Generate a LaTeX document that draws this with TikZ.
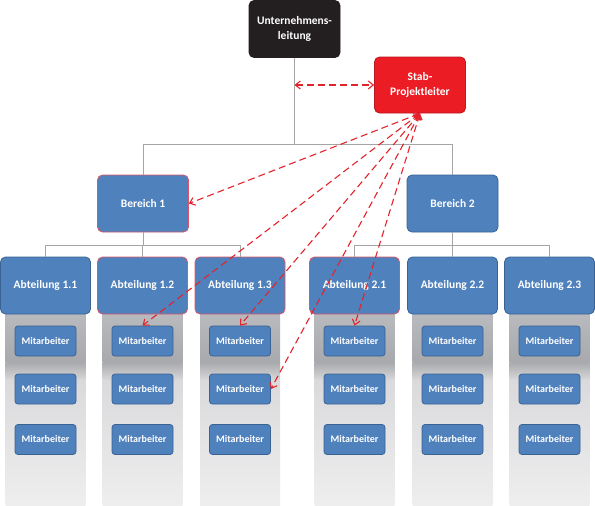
\documentclass[tikz,border=0pt]{standalone}
\usepackage{fontspec}
\setmainfont{Carlito}
\usetikzlibrary{arrows.meta}
\definecolor{boxblue}{HTML}{4F81BD}
\definecolor{boxedge}{HTML}{3A6293}
\definecolor{pinkedge}{HTML}{D9576A}
\definecolor{stabred}{HTML}{EC1C24}
\definecolor{stabedge}{HTML}{B81820}
\definecolor{leadblack}{HTML}{231F20}
\definecolor{linegray}{HTML}{A5A5A5}
\definecolor{arrowred}{HTML}{E3232B}
\definecolor{colA}{HTML}{BEBFC2}
\definecolor{colB}{HTML}{A8A9AC}
\definecolor{colC}{HTML}{DADADC}
\definecolor{colD}{HTML}{EEEEEF}
\tikzset{
  box/.style={draw=boxedge, fill=boxblue, rounded corners=5pt, text=white,
    font=\fontsize{11.5}{14.5}\selectfont\bfseries, minimum width=91pt,
    minimum height=57pt, inner sep=0pt, align=center, line width=0.8pt},
  pinkbox/.style={box, draw=pinkedge},
  leadbox/.style={box, fill=leadblack, draw=leadblack},
  stabbox/.style={box, fill=stabred, draw=stabedge, minimum height=56pt},
  mbox/.style={box, rounded corners=3pt, minimum width=61pt, minimum height=30pt,
    font=\fontsize{10}{12}\selectfont\bfseries},
  conn/.style={draw=linegray, line width=0.9pt},
  redarrow/.style={draw=arrowred, line width=1.1pt, dash pattern=on 7pt off 4pt,
    {Straight Barb[length=5pt,width=8pt]}-{Straight Barb[length=5pt,width=8pt]}},
}
\begin{document}
\begin{tikzpicture}[x=1pt,y=-1pt]
\useasboundingbox (0,0) rectangle (595,506);
% grey columns
\foreach \cx in {45.5,142.5,240,354.5,452.5,549.5}{
  \shade[top color=colA,bottom color=colB] ({\cx-40},300) rectangle ({\cx+40},362.5);
  \shade[top color=colB,bottom color=colC] ({\cx-40},362) rectangle ({\cx+40},380.5);
  \shade[top color=colC,bottom color=colD] ({\cx-40},380) rectangle ({\cx+40},505);
}
% boxes
\node[leadbox] (U) at (294.5,29) {Unternehmens-\\leitung};
\node[stabbox] (S) at (420,85) {Stab-\\Projektleiter};
\node[pinkbox] (B1) at (143,203.5) {Bereich 1};
\node[box] (B2) at (452.5,203.5) {Bereich 2};
\foreach \n/\cx/\lab/\st in {11/45.5/1.1/box, 12/142.5/1.2/pinkbox, 13/240/1.3/pinkbox,
    21/354.5/2.1/pinkbox, 22/452.5/2.2/box, 23/549.5/2.3/box}{
  \node[\st, minimum width=90pt] (A\n) at (\cx,285.5) {Abteilung \lab};
  \node[mbox] (M\n-1) at (\cx,341) {Mitarbeiter};
  \node[mbox] (M\n-2) at (\cx,389) {Mitarbeiter};
  \node[mbox] (M\n-3) at (\cx,439.5) {Mitarbeiter};
}
% grey connectors
\coordinate (bus0) at (0,144);
\coordinate (bus1) at (0,245);
\draw[conn] (U.south) -- (U.south |- bus0);
\draw[conn] (B1.north) -- (B1.north |- bus0) -- (B2.north |- bus0) -- (B2.north);
\draw[conn] (B1.south) -- (B1.south |- bus1);
\draw[conn] (A11.north) -- (A11.north |- bus1) -- (A13.north |- bus1) -- (A13.north);
\draw[conn] (A12.north) -- (A12.north |- bus1);
\draw[conn] (B2.south) -- (B2.south |- bus1);
\draw[conn] (A21.north) -- (A21.north |- bus1) -- (A23.north |- bus1) -- (A23.north);
\draw[conn] (A22.north) -- (A22.north |- bus1);
% red dashed arrows
\coordinate (ul) at (U.south |- S.west);
\draw[redarrow] (ul) -- (S.west);
\draw[redarrow] (S.south) -- (B1.east);
\draw[redarrow] (S.south) -- (M12-1.north);
\draw[redarrow] (S.south) -- (M13-1.north);
\draw[redarrow] (S.south) -- (M13-2.east);
\draw[redarrow] (S.south) -- (M21-1.north);
\end{tikzpicture}
\end{document}
